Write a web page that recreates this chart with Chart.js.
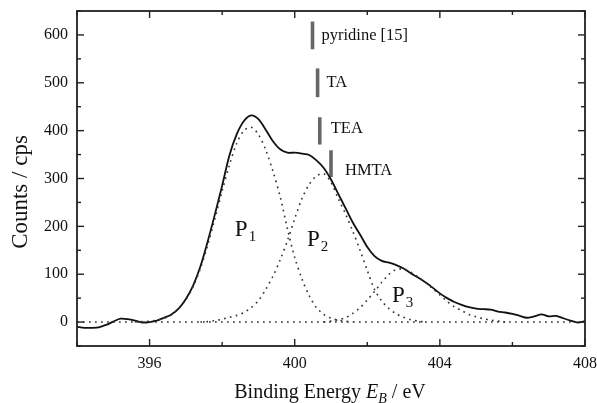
<!DOCTYPE html>
<html>
<head>
<meta charset="utf-8">
<script src="https://cdn.jsdelivr.net/npm/chart.js@4.4.1/dist/chart.umd.min.js"></script>
<style>
  html, body { margin: 0; padding: 0; background: #ffffff; }
  #wrap { width: 597px; height: 403px; }
</style>
</head>
<body>
<div id="wrap"><canvas id="c" width="597" height="403"></canvas></div>
<script>
// ---------------- DATA ----------------
const energy = [394.0,394.2,394.4,394.6,394.8,395.0,395.2,395.4,395.6,395.8,
  396.0,396.2,396.4,396.6,396.8,397.0,397.2,397.4,397.6,397.8,
  398.0,398.2,398.4,398.6,398.8,399.0,399.2,399.4,399.6,399.8,
  400.0,400.2,400.4,400.6,400.8,401.0,401.2,401.4,401.6,401.8,
  402.0,402.2,402.4,402.6,402.8,403.0,403.2,403.4,403.6,403.8,
  404.0,404.2,404.4,404.6,404.8,405.0,405.2,405.4,405.6,405.8,
  406.0,406.2,406.4,406.6,406.8,407.0,407.2,407.4,407.6,407.8,408.0];

const counts = [-10,-12,-12,-11,-6,1,7,6,3,-1,
  0,3,9,16,28,48,76,116,168,225,
  285,348,392,420,432,424,402,378,361,354,
  354,352,349,338,322,298,268,238,208,183,
  157,138,128,124,119,112,102,93,83,72,
  60,50,42,36,31,28,27,26,22,20,
  17,13,9,12,16,12,13,8,3,-1,2];

const p1 = [null,null,null,null,null,null,null,null,0,1,
  2,4,8,15,28,47,74,112,160,216,
  274,328,373,400,407,392,360,315,262,195,
  135,90,55,30,16,8,4,2,0,null,
  null,null,null,null,null,null,null,null,null,null,
  null,null,null,null,null,null,null,null,null,null,
  null,null,null,null,null,null,null,null,null,null,null];

const p2 = [null,null,null,null,null,null,null,null,null,null,
  null,null,null,null,null,null,null,0,1,3,
  6,10,14,20,30,45,68,96,130,170,
  216,258,288,305,310,292,258,226,190,150,
  108,68,44,28,17,10,5,2,0,null,
  null,null,null,null,null,null,null,null,null,null,
  null,null,null,null,null,null,null,null,null,null,null];

const p3 = [null,null,null,null,null,null,null,null,null,null,
  null,null,null,null,null,null,null,null,null,null,
  null,null,null,null,null,null,null,null,null,null,
  null,null,null,null,0,2,5,9,18,30,
  46,64,83,100,110,110,104,94,83,70,
  57,43,32,24,16,11,7,4,2,0,
  null,null,null,null,null,null,null,null,null,null,null];

const baselineEnergy = [394, 408];
const baselineCounts = [0, 0];

const xTicks = [396, 400, 404, 408];
const xMinorTicks = [394, 398, 402, 406];
const yTicks = [0, 100, 200, 300, 400, 500, 600];
const yMinorTicks = [-50, 50, 150, 250, 350, 450, 550, 650];

const markerLabels = ['pyridine [15]', 'TA', 'TEA', 'HMTA'];
const markerEnergy = [400.49, 400.63, 400.69, 401.0];
const markerTop = [628, 530, 428, 359];
const markerBottom = [570, 470, 371, 303];

const peakNames = ['P', 'P', 'P'];
const peakSubs = ['1', '2', '3'];

// ---------------- STYLE / LAYOUT ----------------
const SERIF = '"Liberation Serif", "Times New Roman", serif';
const markerLabelDx = [9, 9, 11, 14];
const markerLabelDy = [0, 0, -2, 7];
const peakLabelPos = [[398.35, 180], [400.34, 160], [402.68, 42]];

function pts(xs, ys) { return xs.map((x, i) => ({ x: x, y: ys[i] })); }

const dotted = {
  borderColor: '#333', borderWidth: 1.6, borderDash: [1.7, 4.3],
  pointRadius: 0, fill: false, tension: 0.3, spanGaps: false
};

const datasets = [
  Object.assign({ label: 'baseline', data: pts(baselineEnergy, baselineCounts) }, dotted, { tension: 0 }),
  Object.assign({ label: 'P1', data: pts(energy, p1) }, dotted),
  Object.assign({ label: 'P2', data: pts(energy, p2) }, dotted),
  Object.assign({ label: 'P3', data: pts(energy, p3) }, dotted),
  { label: 'spectrum', data: pts(energy, counts), borderColor: '#111', borderWidth: 1.8,
    pointRadius: 0, fill: false, tension: 0.3 }
];
markerEnergy.forEach((e, i) => {
  datasets.push({ label: markerLabels[i],
    data: [{ x: e, y: markerBottom[i] }, { x: e, y: markerTop[i] }],
    borderColor: '#666', borderWidth: 3.6, pointRadius: 0, borderCapStyle: 'butt', tension: 0 });
});

const framePlugin = {
  id: 'frame',
  afterDraw(chart) {
    const ctx = chart.ctx, a = chart.chartArea;
    const xs = chart.scales.x, ys = chart.scales.y;
    ctx.save();
    // frame
    ctx.strokeStyle = '#222'; ctx.lineWidth = 1.8;
    ctx.strokeRect(a.left, a.top, a.right - a.left, a.bottom - a.top);
    // ticks (inward, all four sides)
    ctx.lineWidth = 1.4;
    const tick = (x1, y1, x2, y2) => { ctx.beginPath(); ctx.moveTo(x1, y1); ctx.lineTo(x2, y2); ctx.stroke(); };
    xTicks.forEach(v => { const x = xs.getPixelForValue(v); tick(x, a.bottom, x, a.bottom - 7); tick(x, a.top, x, a.top + 7); });
    xMinorTicks.forEach(v => { const x = xs.getPixelForValue(v); tick(x, a.bottom, x, a.bottom - 4); tick(x, a.top, x, a.top + 4); });
    yTicks.forEach(v => { const y = ys.getPixelForValue(v); tick(a.left, y, a.left + 7, y); tick(a.right, y, a.right - 7, y); });
    yMinorTicks.forEach(v => { const y = ys.getPixelForValue(v); tick(a.left, y, a.left + 4, y); tick(a.right, y, a.right - 4, y); });

    ctx.fillStyle = '#111';
    // marker labels
    ctx.font = '16.5px ' + SERIF; ctx.textAlign = 'left'; ctx.textBaseline = 'middle';
    markerLabels.forEach((t, i) => {
      const x = xs.getPixelForValue(markerEnergy[i]) + markerLabelDx[i];
      const y = ys.getPixelForValue((markerTop[i] + markerBottom[i]) / 2) + markerLabelDy[i];
      ctx.fillText(t, x, y);
    });
    // peak labels
    ctx.textBaseline = 'alphabetic';
    peakNames.forEach((t, i) => {
      const x = xs.getPixelForValue(peakLabelPos[i][0]);
      const y = ys.getPixelForValue(peakLabelPos[i][1]);
      ctx.font = '23px ' + SERIF; ctx.fillText(t, x, y);
      const w = ctx.measureText(t).width;
      ctx.font = '15px ' + SERIF; ctx.fillText(peakSubs[i], x + w + 1, y + 5);
    });
    // y title
    ctx.save();
    ctx.translate(21, 192); ctx.rotate(-Math.PI / 2);
    ctx.font = '23px ' + SERIF; ctx.textAlign = 'center'; ctx.textBaseline = 'middle';
    ctx.fillText('Counts / cps', 0, 0);
    ctx.restore();
    // x title with italic E and subscript B
    const parts = [
      { t: 'Binding Energy ', f: '20px ' + SERIF, dy: 0 },
      { t: 'E', f: 'italic 20px ' + SERIF, dy: 0 },
      { t: 'B', f: 'italic 14px ' + SERIF, dy: 5 },
      { t: ' / eV', f: '20px ' + SERIF, dy: 0 }
    ];
    let total = 0;
    parts.forEach(p => { ctx.font = p.f; p.w = ctx.measureText(p.t).width; total += p.w; });
    let x0 = 330 - total / 2;
    ctx.textAlign = 'left'; ctx.textBaseline = 'alphabetic';
    parts.forEach(p => { ctx.font = p.f; ctx.fillText(p.t, x0, 398 + p.dy); x0 += p.w; });
    ctx.restore();
  }
};

new Chart(document.getElementById('c'), {
  type: 'line',
  data: { datasets: datasets },
  plugins: [framePlugin],
  options: {
    responsive: false, animation: false, devicePixelRatio: 1,
    layout: { padding: { left: 0, right: 12, top: 11, bottom: 0 } },
    plugins: { legend: { display: false }, tooltip: { enabled: false } },
    scales: {
      x: {
        type: 'linear', min: 394, max: 408,
        afterBuildTicks: s => { s.ticks = xTicks.map(v => ({ value: v })); },
        afterFit: s => { s.height = 57; s.paddingLeft = 0; s.paddingRight = 0; },
        grid: { display: false, drawTicks: false }, border: { display: false },
        ticks: { font: { family: SERIF, size: 16 }, color: '#111', padding: 8, maxRotation: 0,
          callback: v => String(v) }
      },
      y: {
        type: 'linear', min: -50, max: 650,
        afterBuildTicks: s => { s.ticks = yTicks.map(v => ({ value: v })); },
        afterFit: s => { s.width = 77; s.paddingTop = 0; s.paddingBottom = 0; },
        grid: { display: false, drawTicks: false }, border: { display: false },
        ticks: { font: { family: SERIF, size: 16 }, color: '#111', padding: 9,
          callback: v => String(v) }
      }
    }
  }
});
</script>
</body>
</html>
